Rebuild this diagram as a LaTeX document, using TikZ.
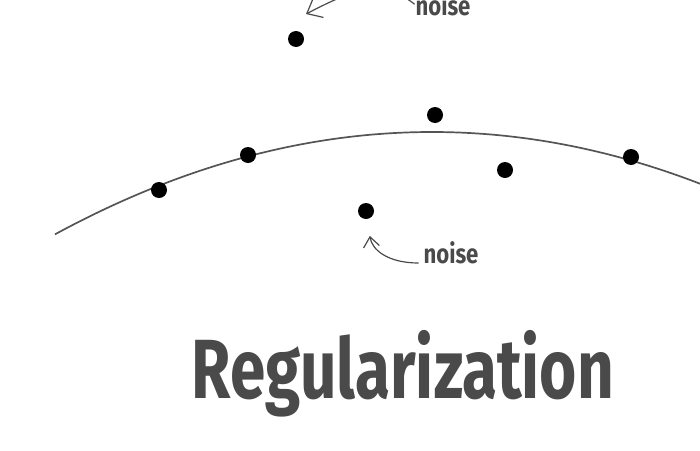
\documentclass[tikz,border=0pt]{standalone}
\usepackage{fontspec}
\setmainfont{Fira Sans}
\usetikzlibrary{arrows.meta, positioning}

\definecolor{inkgray}{HTML}{4A4A4A}
\definecolor{curvegray}{HTML}{555555}

\begin{document}
\begin{tikzpicture}[
x=1pt, y=-1pt,
dot/.style={circle, fill=black, inner sep=0pt, minimum size=16pt},
noiselabel/.style={font=\fontsize{27}{27}\selectfont\bfseries, text=inkgray, inner sep=1pt, xscale=0.82},
titlelabel/.style={font=\fontsize{84}{84}\selectfont\bfseries, text=inkgray, inner sep=0pt, xscale=0.76},
fit curve/.style={draw=curvegray, line width=1.7pt},
arrow/.style={draw=inkgray, line width=1.2pt, -{Straight Barb[length=10pt, width=16pt, line width=1.2pt]}}
]
\useasboundingbox[fill=white] (0,0) rectangle (700,450);
\clip (0,0) rectangle (700,450);

% fitted curve
\draw[fit curve] plot[domain=55:705, smooth, samples=60] (\x, {132+7.2*((\x-432)/100)^2});

% data points
\node[dot] (d1) at (296,39) {};
\node[dot] (d2) at (435,115) {};
\node[dot] (d3) at (248,155) {};
\node[dot] (d4) at (159,190) {};
\node[dot] (d5) at (505,170) {};
\node[dot] (d6) at (631,157) {};
\node[dot] (d7) at (366,211) {};

% labels
\node[noiselabel, anchor=base] (n1) at (443,15) {noise};
\node[noiselabel, anchor=base] (n2) at (451,263) {noise};
\coordinate (tip1) at (306,14);

\draw[arrow, -{Straight Barb[length=13pt, width=22pt, line width=1.2pt]}] (n1.west) .. controls (380,-24) and (345,-6) .. (tip1);
\draw[arrow, shorten >=17pt] ([xshift=-4pt]n2.base west) .. controls (388,263) and (372,250) .. (d7);

\node[titlelabel, anchor=base] (title) at (403,398) {Regularization};
\end{tikzpicture}
\end{document}
